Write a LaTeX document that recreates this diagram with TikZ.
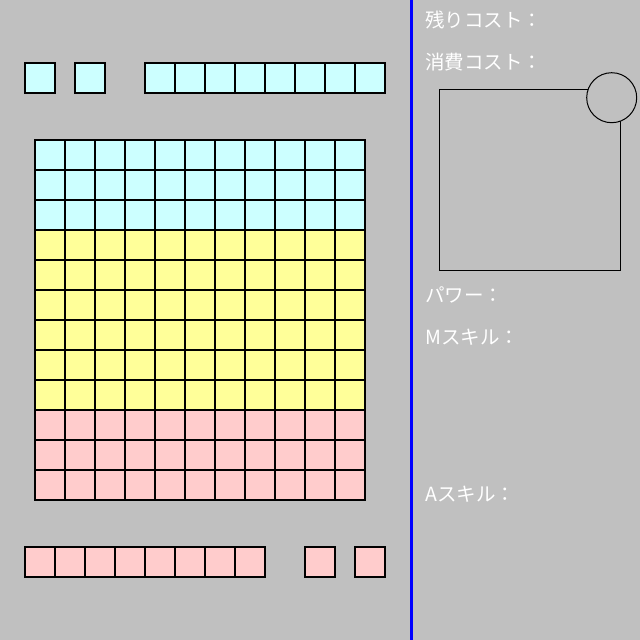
\documentclass[tikz,border=0pt]{standalone}
\usepackage{fontspec}
\newfontfamily\jpfont{Noto Sans CJK JP}
\definecolor{bgc}{HTML}{C0C0C0}
\definecolor{cyanc}{HTML}{CCFFFF}
\definecolor{yellowc}{HTML}{FFFF99}
\definecolor{pinkc}{HTML}{FFCCCC}
\definecolor{bluec}{HTML}{0000FF}
\begin{document}
\begin{tikzpicture}[x=1pt,y=-1pt,
  cell/.style={draw=black,line width=2pt},
  lbl/.style={anchor=west,text=white,inner sep=0pt,font=\jpfont\fontsize{19.5}{19.5}\selectfont},
  thin/.style={draw=black,line width=1pt}]
\fill[bgc] (0,0) rectangle (640,640);
\useasboundingbox (0,0) rectangle (640,640);
% top row
\foreach \x in {25,75} \filldraw[cell,fill=cyanc] (\x,63) rectangle ++(30,30);
\foreach \i in {0,...,7} \filldraw[cell,fill=cyanc] (145+30*\i,63) rectangle ++(30,30);
% grid
\foreach \r in {0,...,11}{
  \ifnum\r<3 \def\cc{cyanc}\else\ifnum\r<9 \def\cc{yellowc}\else\def\cc{pinkc}\fi\fi
  \foreach \c in {0,...,10} \filldraw[cell,fill=\cc] (35+30*\c,140+30*\r) rectangle ++(30,30);
}
% bottom row
\foreach \i in {0,...,7} \filldraw[cell,fill=pinkc] (25+30*\i,547) rectangle ++(30,30);
\foreach \x in {305,355} \filldraw[cell,fill=pinkc] (\x,547) rectangle ++(30,30);
% divider
\draw[bluec,line width=2.5pt] (411.5,0) -- (411.5,640);
% right panel
\draw[thin] (439.5,89.5) rectangle (620.5,270.5);
\filldraw[thin,fill=bgc] (611.7,97.7) circle (25);
\node[lbl] (rem) at (425,20) {残りコスト：};
\node[lbl] (use) at (425,62) {消費コスト：};
\node[lbl] (pow) at (425,295) {パワー：};
\node[lbl] (ms) at (425,337) {Mスキル：};
\node[lbl] (as) at (425,494) {Aスキル：};
\end{tikzpicture}
\end{document}
